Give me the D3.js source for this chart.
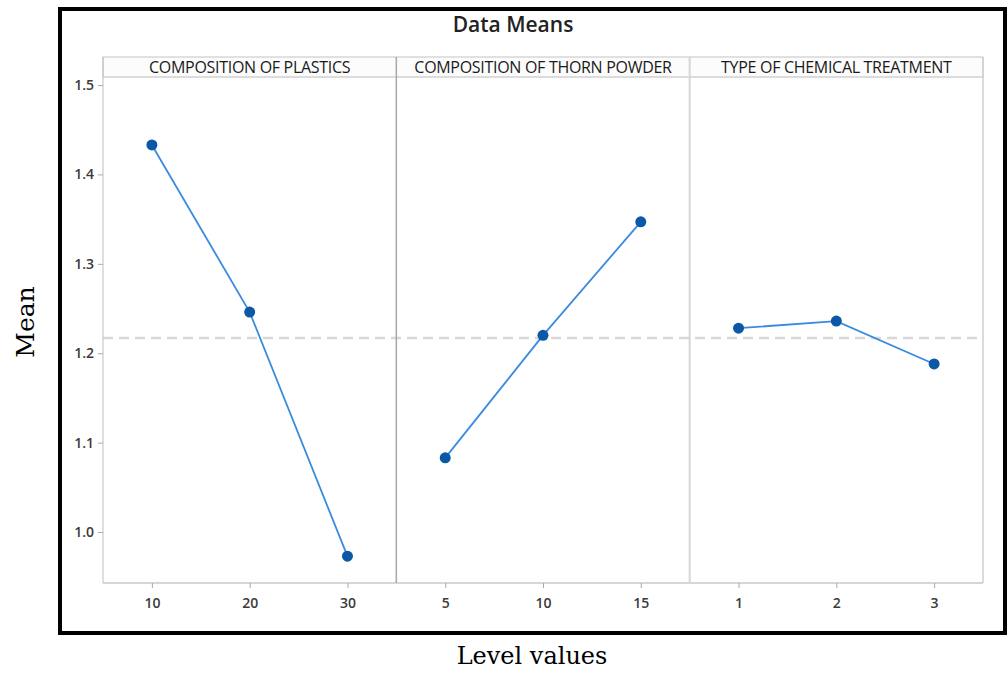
<!DOCTYPE html>
<html>
<head>
<meta charset="utf-8">
<script src="https://cdn.jsdelivr.net/npm/d3@7/dist/d3.min.js"></script>
<style>
  html, body { margin: 0; padding: 0; background: #fff; }
  svg { display: block; }
</style>
</head>
<body>
<svg id="chart" width="1008" height="674"></svg>
<script>
// ---- data ----
const chartTitle = "Data Means";
const factors = ["COMPOSITION OF PLASTICS", "COMPOSITION OF THORN POWDER", "TYPE OF CHEMICAL TREATMENT"];
const levelsPlastics = ["10", "20", "30"];
const meansPlastics = [1.433, 1.246, 0.973];
const levelsThorn = ["5", "10", "15"];
const meansThorn = [1.083, 1.220, 1.347];
const levelsTreatment = ["1", "2", "3"];
const meansTreatment = [1.228, 1.236, 1.188];
const grandMean = 1.217;
const yTicks = [1.0, 1.1, 1.2, 1.3, 1.4, 1.5];
const yLabel = "Mean";
const xLabel = "Level values";

const panels = [
  { name: factors[0], levels: levelsPlastics, means: meansPlastics },
  { name: factors[1], levels: levelsThorn, means: meansThorn },
  { name: factors[2], levels: levelsTreatment, means: meansTreatment }
];

// ---- layout ----
const svg = d3.select("#chart");
const L = 103, R = 983, T = 77, B = 583, stripTop = 57;
const uiFont = "'Open Sans', 'Noto Sans', sans-serif";
const serif = "'DejaVu Serif', 'Liberation Serif', serif";

// outer frame
svg.append("rect").attr("x", 60).attr("y", 9).attr("width", 945).attr("height", 624)
  .attr("fill", "#fff").attr("stroke", "#000").attr("stroke-width", 4);

// scales
const y = d3.scaleLinear().domain([0.943, 1.509]).range([B, T]);
const panelScale = d3.scaleBand().domain(factors).range([L, R]).paddingInner(0).paddingOuter(0);

// title
svg.append("text").attr("x", 513).attr("y", 32).attr("text-anchor", "middle")
  .attr("font-family", uiFont).attr("font-size", 21).attr("font-weight", 600)
  .attr("fill", "#222").text(chartTitle);

// strip background
svg.append("rect").attr("x", L).attr("y", stripTop).attr("width", R - L).attr("height", T - stripTop)
  .attr("fill", "#fcfcfc").attr("stroke", "#c4c4c4").attr("stroke-width", 1);
svg.append("line").attr("x1", L).attr("x2", R).attr("y1", T).attr("y2", T)
  .attr("stroke", "#dcdcdc").attr("stroke-width", 2);

// grand mean reference line
svg.append("line").attr("x1", L).attr("x2", R).attr("y1", y(grandMean)).attr("y2", y(grandMean))
  .attr("stroke", "#d8d8d8").attr("stroke-width", 2.5).attr("stroke-dasharray", "10,6");

// y axis
const yAxis = d3.axisLeft(y).tickValues(yTicks).tickFormat(d3.format(".1f")).tickSize(5).tickPadding(4);
const gy = svg.append("g").attr("transform", `translate(${L},0)`).call(yAxis);
gy.select(".domain").attr("stroke", "#bdbdbd").attr("d", `M0,${stripTop}V${B}`);
gy.selectAll(".tick line").attr("stroke", "#aaa");
gy.selectAll(".tick text").attr("font-family", uiFont).attr("font-size", 14)
  .attr("font-weight", 600).attr("fill", "#3a3a3a");

// bottom axis line
svg.append("line").attr("x1", L).attr("x2", R).attr("y1", B).attr("y2", B)
  .attr("stroke", "#c8c8c8").attr("stroke-width", 1.5);
// right border
svg.append("line").attr("x1", R).attr("x2", R).attr("y1", stripTop).attr("y2", B)
  .attr("stroke", "#cfcfcf").attr("stroke-width", 1.5);

panels.forEach((p, i) => {
  const x0 = panelScale(p.name);
  const w = panelScale.bandwidth();
  const x = d3.scalePoint().domain(p.levels).range([x0, x0 + w]).padding(0.5);

  // divider
  if (i > 0) {
    svg.append("line").attr("x1", x0).attr("x2", x0).attr("y1", stripTop).attr("y2", B)
      .attr("stroke", i === 1 ? "#a8a8a8" : "#d6d6d6").attr("stroke-width", i === 1 ? 1.5 : 2);
  }

  // strip label
  svg.append("text").attr("x", x0 + w / 2).attr("y", T - 4).attr("text-anchor", "middle")
    .attr("font-family", uiFont).attr("font-size", 16).attr("letter-spacing", -0.3)
    .attr("fill", "#1a1a1a").text(p.name);

  // x axis
  const xAxis = d3.axisBottom(x).tickSize(5).tickPadding(10);
  const gx = svg.append("g").attr("transform", `translate(0,${B})`).call(xAxis);
  gx.select(".domain").remove();
  gx.selectAll(".tick line").attr("stroke", "#aaa");
  gx.selectAll(".tick text").attr("font-family", uiFont).attr("font-size", 14)
    .attr("font-weight", 600).attr("fill", "#3a3a3a");

  const pts = p.levels.map((lv, j) => ({ lv, v: p.means[j] }));
  const line = d3.line().x(d => x(d.lv)).y(d => y(d.v));
  svg.append("path").datum(pts).attr("d", line).attr("fill", "none")
    .attr("stroke", "#3a8be0").attr("stroke-width", 1.8);
  svg.append("g").selectAll("circle").data(pts).join("circle")
    .attr("cx", d => x(d.lv)).attr("cy", d => y(d.v)).attr("r", 5.5)
    .attr("fill", "#0a58a6");
});

// axis titles (outside frame)
svg.append("text").attr("transform", "translate(34,322) rotate(-90)").attr("text-anchor", "middle")
  .attr("font-family", serif).attr("font-size", 25).attr("fill", "#000").text(yLabel);
svg.append("text").attr("x", 532).attr("y", 664).attr("text-anchor", "middle")
  .attr("font-family", serif).attr("font-size", 24).attr("fill", "#000").text(xLabel);
</script>
</body>
</html>
